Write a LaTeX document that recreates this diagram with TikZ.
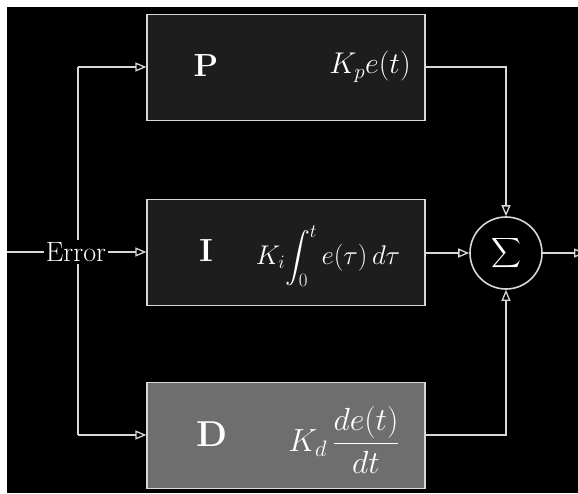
\documentclass[tikz,border=0pt]{standalone}
\usepackage{fix-cm}
\usepackage{amsmath}
\usepackage{fontspec}
\usetikzlibrary{arrows.meta}
\definecolor{wire}{HTML}{D8D8D8}
\definecolor{pbox}{HTML}{1D1D1D}
\definecolor{dbox}{HTML}{6E6E6E}
\tikzset{
  wirestyle/.style={draw=wire, line width=1.3pt},
  flow/.style={wirestyle, -{Triangle[open, length=11pt, width=9pt]}},
  termbox/.style={draw=wire, line width=1.3pt, minimum width=278pt, minimum height=106pt, inner sep=0pt},
  letter/.style={text=white, font=\fontsize{32}{36}\selectfont\bfseries},
  formula/.style={text=white},
}
\begin{document}
\begin{tikzpicture}[x=1pt, y=-1pt]
  % canvas
  \fill[white] (0,0) rectangle (578,493);
  \fill[black] (7,7) rectangle (578,493);
  \useasboundingbox (0,0) rectangle (578,493);

  % the three term blocks
  \node[termbox, fill=pbox] (P) at (286,67.5) {};
  \node[termbox, fill=pbox] (I) at (286,252.5) {};
  \node[termbox, fill=dbox] (D) at (286,435.5) {};

  \node[letter] (Pl) at (206,66) {P};
  \node[letter] (Il) at (206,251) {I};
  \node[letter, font=\fontsize{36}{40}\selectfont\bfseries] (Dl) at (212,434) {D};

  \node[formula, font=\fontsize{30}{34}\selectfont] (Pf) at (370,67) {$K_p e(t)$};
  \node[formula, font=\fontsize{27}{31}\selectfont] (If) at (328,256) {$\displaystyle K_i\!\int_0^t e(\tau)\,d\tau$};
  \node[formula, font=\fontsize{32}{36}\selectfont] (Df) at (344,440) {$\displaystyle K_d\,\frac{de(t)}{dt}$};

  % summing junction
  \node[circle, draw=wire, line width=1.6pt, minimum size=72pt, inner sep=0pt, text=white,
        font=\fontsize{20}{24}\selectfont] (S) at (506,253) {$\displaystyle\sum$};

  % error signal and its branches
  \coordinate (in) at (7,252);
  \node[text=white, fill=black, inner sep=2pt, font=\fontsize{28}{32}\selectfont] (E) at (76,252) {Error};
  \coordinate (top) at (78,67);
  \coordinate (bot) at (78,435);
  \draw[wirestyle] (in) -- (E.west);
  \draw[wirestyle] (E.north -| top) -- (top);
  \draw[wirestyle] (E.south -| bot) -- (bot);
  \draw[flow] (top) -- (P.west |- top);
  \draw[flow] (bot) -- (D.west |- bot);
  \draw[flow] (E.east) -- (I.west |- E.east);

  % outputs into the sum
  \draw[flow] (P.east |- top) -| (S.north);
  \draw[flow] (I.east |- S.west) -- (S.west);
  \draw[flow] (D.east |- bot) -| (S.south);

  % sum output
  \coordinate (out) at (585,253);
  \draw[flow] (S.east) -- (out);
\end{tikzpicture}
\end{document}
